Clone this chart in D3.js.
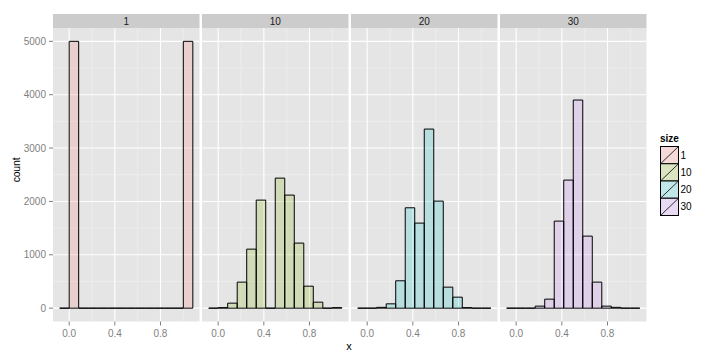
<!DOCTYPE html>
<html><head><meta charset="utf-8">
<script src="https://cdn.jsdelivr.net/npm/d3@7"></script>
<style>body{margin:0;background:#fff}svg{display:block;font-family:"Liberation Sans",Arial,sans-serif}</style>
</head><body><svg id="c" width="720" height="360"></svg>
<script>
// ---- data ----
const facets = ["1", "10", "20", "30"];
const binEdges = [-0.0833, 0, 0.0833, 0.1667, 0.25, 0.3333, 0.4167, 0.5, 0.5833, 0.6667, 0.75, 0.8333, 0.9167, 1.0, 1.0833];
const counts1  = [0, 5000, 0, 0, 0, 0, 0, 0, 0, 0, 0, 0, 0, 5000];
const counts10 = [0, 10, 94, 488, 1106, 2025, 0, 2437, 2119, 1219, 412, 112, 0, 10];
const counts20 = [0, 0, 15, 81, 513, 1881, 1594, 3356, 2006, 394, 206, 10, 0, 0];
const counts30 = [0, 0, 0, 38, 169, 1631, 2400, 3900, 1350, 488, 38, 15, 0, 0];
const fillColors = ["#F8766D", "#7CAE00", "#00BFC4", "#C77CFF"];
const xTicks = [0.0, 0.4, 0.8];
const xMinor = [0.2, 0.6, 1.0];
const yTicks = [0, 1000, 2000, 3000, 4000, 5000];
const yMinor = [500, 1500, 2500, 3500, 4500];
const allCounts = [counts1, counts10, counts20, counts30];

const svg = d3.select("#c");
const panelTop = 28, panelBottom = 321.5, stripTop = 14;
const panelLeft0 = 53, panelW = 146.5, panelStep = 149;
const y = d3.scaleLinear().domain([-250, 5250]).range([panelBottom, panelTop]);

facets.forEach((f, i) => {
  const x0 = panelLeft0 + i * panelStep;
  const x = d3.scaleLinear().domain([-0.1417, 1.1417]).range([x0, x0 + panelW]);
  const g = svg.append("g");
  // strip
  g.append("rect").attr("x", x0).attr("y", stripTop).attr("width", panelW).attr("height", panelTop - stripTop).attr("fill", "#CCCCCC");
  g.append("text").attr("x", x0 + panelW / 2).attr("y", 24.8).attr("text-anchor", "middle").attr("font-size", 10).attr("fill", "#1a1a1a").text(f);
  // panel
  g.append("rect").attr("x", x0).attr("y", panelTop).attr("width", panelW).attr("height", panelBottom - panelTop).attr("fill", "#E5E5E5");
  // minor grid
  yMinor.forEach(v => g.append("line").attr("x1", x0).attr("x2", x0 + panelW).attr("y1", y(v)).attr("y2", y(v)).attr("stroke", "#F2F2F2").attr("stroke-width", 0.6));
  xMinor.forEach(v => g.append("line").attr("x1", x(v)).attr("x2", x(v)).attr("y1", panelTop).attr("y2", panelBottom).attr("stroke", "#F2F2F2").attr("stroke-width", 0.6));
  // major grid
  yTicks.forEach(v => g.append("line").attr("x1", x0).attr("x2", x0 + panelW).attr("y1", y(v)).attr("y2", y(v)).attr("stroke", "#FFFFFF").attr("stroke-width", 1.1));
  xTicks.forEach(v => g.append("line").attr("x1", x(v)).attr("x2", x(v)).attr("y1", panelTop).attr("y2", panelBottom).attr("stroke", "#FFFFFF").attr("stroke-width", 1.1));
  // bars
  const c = d3.color(fillColors[i]); c.opacity = 0.2;
  allCounts[i].forEach((n, k) => {
    const a = x(binEdges[k]), b = x(binEdges[k + 1]), t = y(n), z = y(0);
    g.append("path").attr("d", `M${a},${z}V${t}H${b}V${z}Z`)
      .attr("fill", c.formatRgb()).attr("stroke", "#000").attr("stroke-width", 1);
  });
  // x axis
  xTicks.forEach(v => {
    g.append("line").attr("x1", x(v)).attr("x2", x(v)).attr("y1", panelBottom).attr("y2", panelBottom + 4).attr("stroke", "#7F7F7F");
    g.append("text").attr("x", x(v)).attr("y", 337).attr("text-anchor", "middle").attr("font-size", 10).attr("fill", "#7F7F7F").text(d3.format(".1f")(v));
  });
});

// y axis
yTicks.forEach(v => {
  svg.append("line").attr("x1", 49).attr("x2", 53).attr("y1", y(v)).attr("y2", y(v)).attr("stroke", "#7F7F7F");
  svg.append("text").attr("x", 46).attr("y", y(v) + 3.6).attr("text-anchor", "end").attr("font-size", 10).attr("fill", "#7F7F7F").text(v);
});

// axis titles
svg.append("text").attr("x", 349).attr("y", 350).attr("text-anchor", "middle").attr("font-size", 11).attr("fill", "#000").text("x");
svg.append("text").attr("transform", "translate(20,170) rotate(-90)").attr("text-anchor", "middle").attr("font-size", 10.5).attr("letter-spacing", -0.2).attr("fill", "#000").text("count");

// legend
const lg = svg.append("g");
lg.append("text").attr("x", 660).attr("y", 142).attr("font-size", 10).attr("font-weight", "bold").attr("fill", "#000").text("size");
const keyH = 17.25, keyW = 18, kx = 660.5, ky = 146.5;
facets.forEach((f, i) => {
  const yy = ky + i * keyH;
  lg.append("rect").attr("x", kx).attr("y", yy).attr("width", keyW).attr("height", keyH).attr("fill", "#F2F2F2");
  const c = d3.color(fillColors[i]); c.opacity = 0.2;
  lg.append("rect").attr("x", kx).attr("y", yy).attr("width", keyW).attr("height", keyH).attr("fill", c.formatRgb()).attr("stroke", "#000").attr("stroke-width", 1);
  lg.append("line").attr("x1", kx).attr("y1", yy + keyH).attr("x2", kx + keyW).attr("y2", yy).attr("stroke", "#000").attr("stroke-width", 0.8);
  lg.append("text").attr("x", kx + keyW + 2).attr("y", yy + keyH / 2 + 3.6).attr("font-size", 10).attr("fill", "#000").text(f);
});
</script></body></html>
